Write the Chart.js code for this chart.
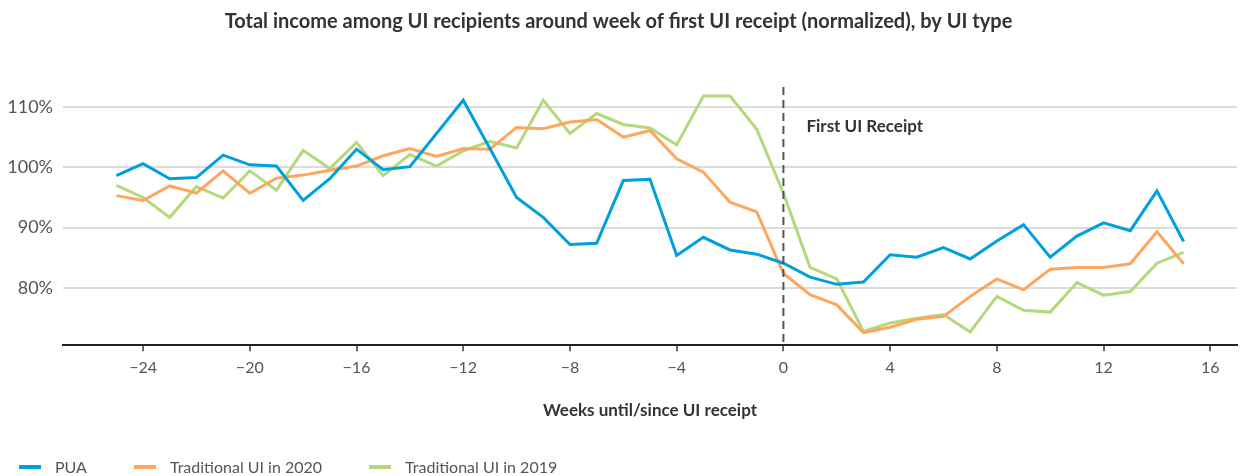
<!DOCTYPE html>
<html>
<head>
<meta charset="utf-8">
<script src="https://cdn.jsdelivr.net/npm/chart.js@4.4.0/dist/chart.umd.min.js"></script>
<style>
  html, body { margin: 0; padding: 0; background: #fff; }
  #wrap { width: 1243px; height: 476px; position: relative; }
</style>
</head>
<body>
<div id="wrap"><canvas id="incomeChart"></canvas></div>
<script>
// weeks until/since first UI receipt
const weeks = [-25, -24, -23, -22, -21, -20, -19, -18, -17, -16, -15, -14, -13, -12, -11, -10,
  -9, -8, -7, -6, -5, -4, -3, -2, -1, 0, 1, 2, 3, 4, 5, 6, 7, 8, 9, 10, 11, 12, 13, 14, 15];

// total income, normalized (%)
const pua = [98.6, 100.6, 98.1, 98.3, 102.0, 100.4, 100.2, 94.5, 98.1, 103.0, 99.6, 100.1, 105.6, 111.1,
  103.1, 95.0, 91.7, 87.2, 87.4, 97.8, 98.0, 85.4, 88.4, 86.3, 85.6, 84.1, 81.8, 80.6, 81.0, 85.5,
  85.1, 86.7, 84.8, 87.8, 90.5, 85.1, 88.6, 90.8, 89.5, 96.1, 87.7];
const trad2020 = [95.3, 94.5, 96.9, 95.7, 99.4, 95.7, 98.2, 98.7, 99.5, 100.2, 101.9, 103.1, 101.8, 103.1,
  103.0, 106.6, 106.4, 107.5, 107.9, 105.0, 106.1, 101.4, 99.2, 94.2, 92.6, 82.4, 78.9, 77.2, 72.6, 73.5,
  74.8, 75.3, 78.6, 81.5, 79.7, 83.1, 83.4, 83.4, 84.0, 89.3, 84.0];
const trad2019 = [97.0, 95.0, 91.7, 96.8, 94.9, 99.4, 96.2, 102.8, 99.8, 104.1, 98.6, 102.1, 100.2, 102.7,
  104.3, 103.2, 111.1, 105.6, 108.9, 107.1, 106.5, 103.7, 111.8, 111.8, 106.3, 95.7, 83.4, 81.5, 72.8, 74.2,
  75.0, 75.6, 72.7, 78.6, 76.3, 76.0, 80.9, 78.8, 79.4, 84.1, 85.9];

const seriesNames = ["PUA", "Traditional UI in 2020", "Traditional UI in 2019"];
const seriesColors = ["#00a0dd", "#ffa65e", "#b5d87c"];

const xTicks = [-24, -20, -16, -12, -8, -4, 0, 4, 8, 12, 16];
const yTicks = [80, 90, 100, 110];

const receiptWeek = 0;
const receiptLabel = "First UI Receipt";

const FONT = "Lato, 'Open Sans', sans-serif";

function toPoints(values) {
  return weeks.map((w, i) => ({ x: w, y: values[i] }));
}

const extras = {
  id: "extras",
  afterDatasetsDraw(chart) {
    const ctx = chart.ctx;
    const area = chart.chartArea;
    const x = chart.scales.x.getPixelForValue(receiptWeek);
    ctx.save();
    ctx.strokeStyle = "#555";
    ctx.lineWidth = 2;
    ctx.setLineDash([8, 5]);
    ctx.beginPath();
    ctx.moveTo(x, area.top);
    ctx.lineTo(x, area.bottom);
    ctx.stroke();
    ctx.setLineDash([]);
    ctx.fillStyle = "#333";
    ctx.font = "bold 17px " + FONT;
    ctx.textBaseline = "middle";
    ctx.fillText(receiptLabel, x + 23, 127);
    ctx.restore();
  },
  afterDraw(chart) {
    // legend along the bottom-left
    const ctx = chart.ctx;
    ctx.save();
    ctx.font = "16px " + FONT;
    ctx.textBaseline = "middle";
    let cx = 19;
    const cy = 467;
    seriesNames.forEach((name, i) => {
      ctx.fillStyle = seriesColors[i];
      ctx.fillRect(cx, cy - 2, 22, 4);
      ctx.fillStyle = "#555";
      ctx.fillText(name, cx + 36, cy + 1);
      cx += 36 + ctx.measureText(name).width + 47;
    });
    ctx.restore();
  }
};

const myIncomeChart = new Chart(document.getElementById("incomeChart").getContext("2d"), {
  type: "line",
  data: {
    datasets: [
      { label: seriesNames[0], data: toPoints(pua), borderColor: seriesColors[0] },
      { label: seriesNames[1], data: toPoints(trad2020), borderColor: seriesColors[1] },
      { label: seriesNames[2], data: toPoints(trad2019), borderColor: seriesColors[2] },
    ],
  },
  options: {
    responsive: true,
    maintainAspectRatio: false,
    animation: false,
    layout: { padding: { left: 0, right: 6, top: 0, bottom: 40 } },
    elements: {
      line: { borderWidth: 3, tension: 0, borderJoinStyle: "miter" },
      point: { radius: 0, hoverRadius: 0 },
    },
    plugins: {
      legend: { display: false },
      tooltip: { enabled: false },
      title: {
        display: true,
        text: "Total income among UI recipients around week of first UI receipt (normalized), by UI type",
        color: "#333",
        font: { family: FONT, size: 20, weight: "bold" },
        padding: { top: 10, bottom: 53 },
      },
    },
    scales: {
      x: {
        type: "linear",
        min: -27,
        max: 17,
        afterBuildTicks: (scale) => { scale.ticks = xTicks.map((v) => ({ value: v })); },
        afterFit: (scale) => { scale.height = 90.7; },
        border: { display: true, color: "#222", width: 2 },
        grid: { drawOnChartArea: false, drawTicks: true, tickLength: 6, color: "#666", lineWidth: 2 },
        ticks: {
          color: "#555",
          padding: 7,
          maxRotation: 0,
          font: { family: FONT, size: 16 },
          callback: (v) => (v < 0 ? "\u2212" + Math.abs(v) : String(v)),
        },
        title: {
          display: true,
          text: "Weeks until/since UI receipt",
          color: "#333",
          font: { family: FONT, size: 17, weight: "bold" },
          padding: { top: 0, bottom: 15 },
        },
      },
      y: {
        min: 70.5,
        max: 113.3,
        afterBuildTicks: (scale) => { scale.ticks = yTicks.map((v) => ({ value: v })); },
        afterFit: (scale) => { scale.width = 63; },
        border: { display: false },
        grid: { color: "#dcdcdc", lineWidth: 2, drawTicks: false },
        ticks: {
          color: "#555",
          padding: 10,
          font: { family: FONT, size: 18 },
          callback: (v) => v + "%",
        },
      },
    },
  },
  plugins: [extras],
});
</script>
</body>
</html>
